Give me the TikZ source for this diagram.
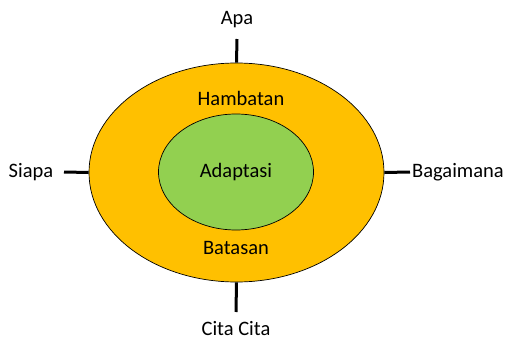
\documentclass[tikz,border=0pt]{standalone}
\usepackage{fontspec}
\setmainfont{Carlito}
\usetikzlibrary{positioning,shapes.geometric}
\definecolor{RingGold}{RGB}{255,192,0}
\definecolor{CoreGreen}{RGB}{146,208,80}
\tikzset{
  blob/.style={ellipse,draw=black,line width=0.7pt,inner sep=0pt},
  tick/.style={line width=3pt},
  word/.style={font=\fontsize{20.5}{24}\selectfont,inner sep=1pt}
}
\begin{document}
\begin{tikzpicture}[x=1pt,y=-1pt]
      \useasboundingbox (0,0) rectangle (507,340);
      % outer ring and inner core
      \node[blob,fill=RingGold,minimum width=295,minimum height=219] (ring) at (236.5,172.5) {};
      \node[blob,fill=CoreGreen,minimum width=155,minimum height=116] (core) at (236,172) {};
      \node[word] (adapt) at (236,172) {Adaptasi};
      \node[word] (hambat) at (241,98) {Hambatan};
      \node[word] (batas) at (236,248) {Batasan};
      % outside labels
      \node[word] (apa) at (237,20) {Apa};
      \node[word] (siapa) at (31,172) {Siapa};
      \node[word,anchor=west] (bagai) at (411,172) {Bagaimana};
      \node[word] (cita) at (236,329) {Cita Cita};
      \coordinate (tN) at (237,39);
      \coordinate (tW) at (64,172);
      \coordinate (tE) at (410,172);
      \coordinate (tS) at (236,312);
      \draw[tick] (ring.north) -- (tN);
      \draw[tick] (ring.west) -- (tW);
      \draw[tick] (ring.east) -- (tE);
      \draw[tick] (ring.south) -- (tS);
    \end{tikzpicture}
\end{document}
